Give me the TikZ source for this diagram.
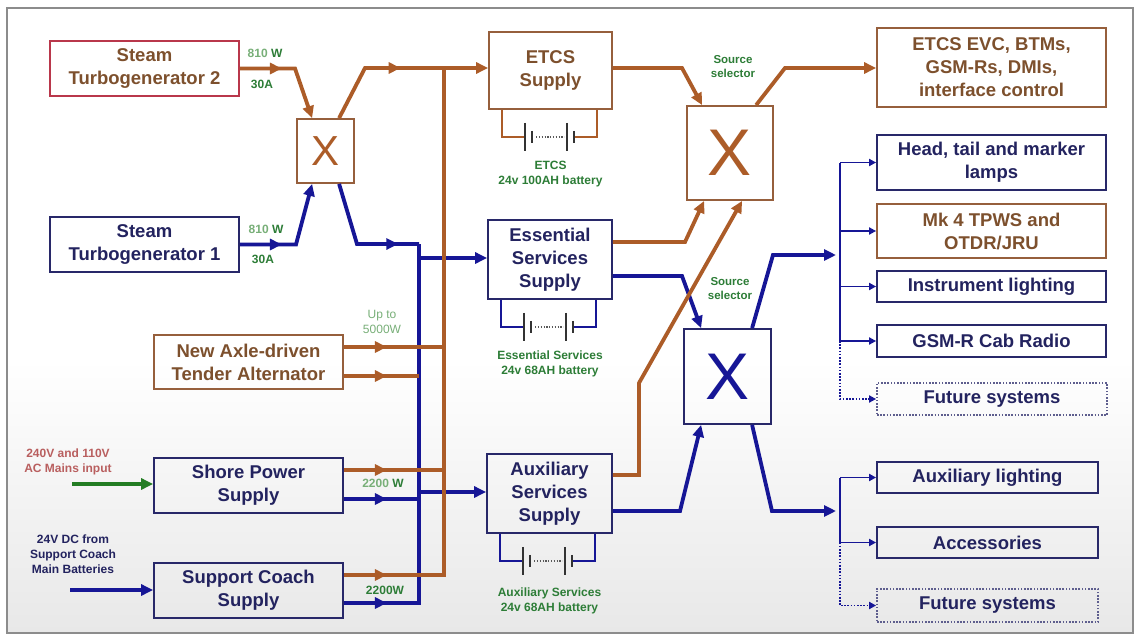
\documentclass[tikz,border=0pt]{standalone}
\usepackage{fontspec}
\setmainfont{Liberation Sans}
\usetikzlibrary{arrows.meta, calc, decorations.markings}

\definecolor{brnline}{RGB}{172,92,40}
\definecolor{brnedge}{RGB}{150,95,60}
\definecolor{brntext}{RGB}{125,80,45}
\definecolor{navline}{RGB}{22,22,150}
\definecolor{navedge}{RGB}{40,40,105}
\definecolor{navtext}{RGB}{35,35,95}
\definecolor{redge}{RGB}{185,55,75}
\definecolor{notegreen}{RGB}{45,125,55}
\definecolor{palegreen}{RGB}{120,175,120}
\definecolor{mainsred}{RGB}{185,95,95}
\definecolor{inputgreen}{RGB}{35,125,35}

\newcommand{\cellbank}[2]{%
  \draw[#2, line width=2.4pt] ($(#1.south west)+(14,0)$) |- ($(#1.south west)+(37,27)$);
  \draw[#2, line width=2.4pt] ($(#1.south west)+(109,0)$) |- ($(#1.south west)+(86,27)$);
  \draw[cellplate] ($(#1.south west)+(37,13)$) -- ++(0,28);
  \draw[cellplate] ($(#1.south west)+(44,21)$) -- ++(0,12);
  \draw[cellplate] ($(#1.south west)+(79,13)$) -- ++(0,28);
  \draw[cellplate] ($(#1.south west)+(86,21)$) -- ++(0,12);
  \draw[black!65, line width=1.2pt, dash pattern=on 1.2pt off 1.6pt] ($(#1.south west)+(48,27)$) -- ($(#1.south west)+(76,27)$);
}

\begin{document}
\begin{tikzpicture}[
  x=1pt, y=-1pt,
  unitbox/.style={rectangle, draw, line width=1.8pt, align=center, inner sep=2pt,
    font=\fontsize{18.5}{23}\selectfont\bfseries},
  brnbox/.style={unitbox, draw=brnedge, text=brntext},
  navbox/.style={unitbox, draw=navedge, text=navtext},
  futbox/.style={navbox, draw=navedge!75, dash pattern=on 1.6pt off 1.6pt},
  selbox/.style={rectangle, draw, line width=1.8pt, inner sep=0pt,
    font=\fontsize{66}{66}\selectfont},
  bus/.style={line width=3.8pt},
  power/.style={bus, -{Triangle[length=12pt,width=11pt]}},
  midarrow/.style={postaction={decorate, decoration={markings,
    mark=at position #1 with {\arrow{Triangle[length=12pt,width=11pt]}}}}},
  feed/.style={navline, line width=1.8pt, -{Triangle[length=7pt,width=7pt]}},
  future/.style={dash pattern=on 1.6pt off 1.6pt},
  cellplate/.style={black!80, line width=1.6pt},
  note/.style={font=\fontsize{12}{15}\selectfont\bfseries, text=notegreen, align=center},
  batnote/.style={note, font=\fontsize{12}{15.5}\selectfont\bfseries}
]

\useasboundingbox (0,0) rectangle (1136,635);
\fill[white] (0,0) rectangle (1136,635);
\shade[top color=white, bottom color=black!9] (8,360) rectangle (1132,632);
\draw[black!45, line width=1.5pt] (7,8) rectangle (1133,633);

\node (tg2) [brnbox, draw=redge, minimum width=189pt, minimum height=55pt] at (144.5,68.5) {Steam\\Turbogenerator 2};
\node (tg1) [navbox, minimum width=189pt, minimum height=55pt] at (144.5,244.5) {Steam\\Turbogenerator 1};
\node (selA) [selbox, draw=brnedge, text=brnline, minimum width=57pt, minimum height=64pt,
  font=\fontsize{42}{42}\selectfont] at (325.5,151) {X};
\node (alt) [brnbox, minimum width=189pt, minimum height=54pt] at (248.5,362) {New Axle-driven\\Tender Alternator};
\node (shore) [navbox, minimum width=189pt, minimum height=55pt] at (248.5,485.5) {Shore Power\\Supply};
\node (coach) [navbox, minimum width=189pt, minimum height=55pt] at (248.5,590.5) {Support Coach\\Supply};
\node (etcs) [brnbox, minimum width=123pt, minimum height=77pt] at (550.5,70.5) {ETCS\\Supply};
\node (ess) [navbox, minimum width=124pt, minimum height=79pt] at (550,259.5) {Essential\\Services\\Supply};
\node (aux) [navbox, minimum width=125pt, minimum height=79pt] at (549.5,493.5) {Auxiliary\\Services\\Supply};
\node (selB) [selbox, draw=brnedge, text=brnline, minimum width=86pt, minimum height=94pt] at (730,153) {X};
\node (selC) [selbox, draw=navedge, text=navline, minimum width=87pt, minimum height=95pt] at (727.5,376.5) {X};
\node (evc) [brnbox, minimum width=229pt, minimum height=79pt] at (991.5,67.5) {ETCS EVC, BTMs,\\GSM-Rs, DMIs,\\interface control};
\node (lamps) [navbox, minimum width=229pt, minimum height=55pt] at (991.5,162.5) {Head, tail and marker\\lamps};
\node (tpws) [brnbox, minimum width=229pt, minimum height=54pt] at (991.5,231) {Mk 4 TPWS and\\OTDR/JRU};
\node (instr) [navbox, minimum width=229pt, minimum height=31pt] at (991.5,286.5) {Instrument lighting};
\node (gsmr) [navbox, minimum width=229pt, minimum height=32pt] at (991.5,341) {GSM-R Cab Radio};
\node (fut1) [futbox, minimum width=230pt, minimum height=32pt] at (992,399) {Future systems};
\node (auxl) [navbox, minimum width=221pt, minimum height=31pt] at (987.5,477.5) {Auxiliary lighting};
\node (acc) [navbox, minimum width=221pt, minimum height=31pt] at (987.5,542.5) {Accessories};
\node (fut2) [futbox, minimum width=221pt, minimum height=33pt] at (987.5,605.5) {Future systems};

\node [note] at (265,53) {{\color{palegreen}810} W};
\node [note] at (262,84) {30A};
\node [note] at (266,229) {{\color{palegreen}810} W};
\node [note] at (263,259) {30A};
\node [note, font=\fontsize{12}{15}\selectfont, text=palegreen] at (382,322) {Up to\\5000W};
\node [note] at (383,483) {{\color{palegreen}2200} W};
\node [note] at (385,590) {2200W};
\node [note, font=\fontsize{11.5}{14}\selectfont\bfseries] at (733,67) {Source\\selector};
\node [note, font=\fontsize{11.5}{14}\selectfont\bfseries] at (730,289) {Source\\selector};
\node [note, text=mainsred] at (68,462) {240V and 110V\\AC Mains input};
\node [note, text=navtext] at (73,554) {24V DC from\\Support Coach\\Main Batteries};

\node [batnote] at ($(etcs.south)+(0,64)$) {ETCS\\24v 100AH battery};
\node [batnote] at ($(ess.south)+(0,64)$) {Essential Services\\24v 68AH battery};
\node [batnote] at ($(aux.south)+(0,67)$) {Auxiliary Services\\24v 68AH battery};

\cellbank{etcs}{brnline}
\cellbank{ess}{navline}
\cellbank{aux}{navline}

\coordinate (brntop) at (444,68);
\coordinate (navtop) at (419,244);
\coordinate (nE) at (419,258);
\coordinate (nA) at (419,492);
\coordinate (mainsin) at (72,484);
\coordinate (dcin) at (70,590);
\coordinate (tapU) at (836,255);
\coordinate (tapL) at (836,511);
\coordinate (trunk) at (840,0);

\draw[power, inputgreen] (mainsin) -- (shore.west |- mainsin);
\draw[power, navline] (dcin) -- (coach.west |- dcin);

\draw[power, brnline, midarrow=42pt] (tg2.east) -- (295,68.5) -- ([xshift=16pt]selA.north west);
\draw[power, navline, midarrow=42pt] (tg1.east) -- (296,244.5) -- ([xshift=16pt]selA.south west);

\draw[bus, navline, midarrow=104pt] ([xshift=43pt]selA.south west) -- (357,244) -- (navtop);
\draw[bus, navline, midarrow=43pt] (coach.east |- 0,603) -- (419,603) -- (navtop);
\draw[bus, navline, midarrow=43pt] (shore.east |- 0,499) -- (419,499);
\draw[power, navline] (nE) -- (ess.west |- nE);
\draw[power, navline] (nA) -- (aux.west |- nA);

\draw[power, brnline, midarrow=92pt] ([xshift=43pt]selA.north west) -- (365,68) -- (etcs.west |- brntop);
\draw[bus, brnline, midarrow=43pt] (coach.east |- 0,575) -- (444,575) -- (brntop);
\draw[bus, brnline, midarrow=43pt] (alt.east |- 0,347) -- (444,347);
\draw[bus, brnline, midarrow=43pt] (alt.east |- 0,376) -- (419,376);
\draw[bus, brnline, midarrow=43pt] (shore.east |- 0,470) -- (444,470);

\draw[power, navline] (ess.east |- 0,276) -- (682,276) -- ([xshift=18pt]selC.north west);
\draw[power, navline] (aux.east |- 0,511) -- (680,511) -- ([xshift=18pt]selC.south west);
\draw[power, brnline] (etcs.east |- brntop) -- (682,68) -- ([xshift=16pt]selB.north west);
\draw[power, brnline] ([xshift=70pt]selB.north west) -- (785,68) -- (evc.west |- brntop);
\draw[power, brnline] (ess.east |- 0,242) -- (685,242) -- ([xshift=18pt]selB.south west);
\draw[power, brnline] (aux.east |- 0,475) -- (639,475) -- (639,383) -- ([xshift=56pt]selB.south west);

\draw[power, navline] ([xshift=69pt]selC.north west) -- (773,255) -- (tapU);
\draw[power, navline] ([xshift=69pt]selC.south west) -- (772,511) -- (tapL);

\draw[navline, line width=1.8pt] (trunk |- lamps.west) -- (trunk |- gsmr.west);
\foreach \b in {lamps, tpws, instr, gsmr}
  \draw[feed] (trunk |- \b.west) -- (\b.west);
\draw[feed, future] (trunk |- gsmr.west) |- (fut1.west);

\draw[navline, line width=1.8pt] (trunk |- auxl.west) -- (trunk |- acc.west);
\foreach \b in {auxl, acc}
  \draw[feed] (trunk |- \b.west) -- (\b.west);
\draw[feed, future] (trunk |- acc.west) |- (fut2.west);

\end{tikzpicture}
\end{document}
